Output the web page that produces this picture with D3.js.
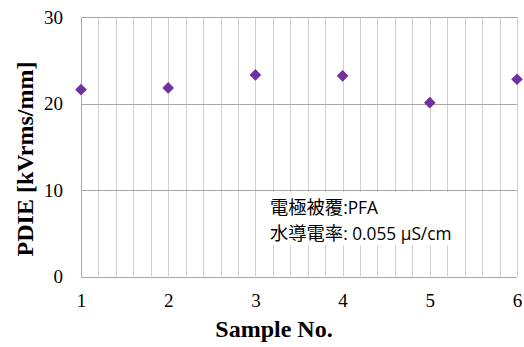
<!DOCTYPE html>
<html>
<head>
<meta charset="utf-8">
<script src="https://cdn.jsdelivr.net/npm/d3@7"></script>
<style>
  html, body { margin: 0; padding: 0; background: #fff; }
  svg { display: block; }
</style>
</head>
<body>
<svg id="chart" width="524" height="347"></svg>
<script>
// Sample numbers and measured PDIE values
const samples = [1, 2, 3, 4, 5, 6];
const pdie = [21.6, 21.8, 23.3, 23.2, 20.1, 22.8];
const yTicks = [0, 10, 20, 30];
const xTicks = [1, 2, 3, 4, 5, 6];
const xMinor = d3.range(1, 6.001, 0.2);
const noteLines = [
  { jp: "電極被覆", rest: ":PFA" },
  { jp: "水導電率", rest: ": 0.055 µS/cm" }
];

const svg = d3.select("#chart");
const margin = { left: 81, right: 7, top: 17, bottom: 70.5 };
const W = 524, H = 347;

const x = d3.scaleLinear().domain([1, 6]).range([margin.left, W - margin.right]);
const y = d3.scaleLinear().domain([0, 30]).range([H - margin.bottom, margin.top]);

const serif = "'Liberation Serif', 'Times New Roman', serif";

// vertical gridlines every 0.2
svg.append("g")
  .selectAll("line")
  .data(xMinor)
  .join("line")
  .attr("x1", d => Math.round(x(d)) + 0.5)
  .attr("x2", d => Math.round(x(d)) + 0.5)
  .attr("y1", y(30))
  .attr("y2", y(0))
  .attr("stroke", "#cfcfcf")
  .attr("stroke-width", 1);

// horizontal gridlines
svg.append("g")
  .selectAll("line")
  .data(yTicks)
  .join("line")
  .attr("x1", x(1))
  .attr("x2", x(6))
  .attr("y1", d => Math.round(y(d)) + 0.5)
  .attr("y2", d => Math.round(y(d)) + 0.5)
  .attr("stroke", "#a8a8a8")
  .attr("stroke-width", 1);

// left axis line
svg.append("line")
  .attr("x1", Math.round(x(1)) + 0.5).attr("x2", Math.round(x(1)) + 0.5)
  .attr("y1", y(30)).attr("y2", y(0))
  .attr("stroke", "#a8a8a8");

// note box
const box = svg.append("g");
box.append("rect")
  .attr("x", 263).attr("y", 192).attr("width", 192).attr("height", 53)
  .attr("fill", "#fff");
noteLines.forEach((ln, i) => {
  const t = box.append("text")
    .attr("x", 270)
    .attr("y", 214 + i * 25.5)
    .attr("fill", "#000");
  t.append("tspan")
    .attr("font-family", "'Noto Sans CJK JP', sans-serif")
    .attr("font-size", 18.3)
    .text(ln.jp);
  t.append("tspan")
    .attr("font-family", "'Open Sans', 'Noto Sans', sans-serif")
    .attr("font-size", 17.3)
    .text(ln.rest);
});

// axes tick labels via d3 axes
const yAxis = d3.axisLeft(y).tickValues(yTicks).tickSize(0).tickPadding(18);
svg.append("g")
  .attr("transform", `translate(${x(1)},0)`)
  .call(yAxis)
  .call(g => g.select(".domain").remove())
  .call(g => g.selectAll("text")
    .attr("font-family", serif)
    .attr("font-size", 19)
    .attr("fill", "#000"));

const xAxis = d3.axisBottom(x).tickValues(xTicks).tickFormat(d3.format("d")).tickSize(0).tickPadding(17);
svg.append("g")
  .attr("transform", `translate(0,${y(0)})`)
  .call(xAxis)
  .call(g => g.select(".domain").remove())
  .call(g => g.selectAll("text")
    .attr("font-family", serif)
    .attr("font-size", 19)
    .attr("fill", "#000"));

// data markers (diamonds)
svg.append("g")
  .selectAll("path")
  .data(samples.map((s, i) => ({ s, v: pdie[i] })))
  .join("path")
  .attr("d", d3.symbol().type(d3.symbolSquare).size(68))
  .attr("transform", d => `translate(${x(d.s)},${y(d.v)}) rotate(45)`)
  .attr("fill", "#7030a0");

// axis titles
svg.append("text")
  .attr("x", 274)
  .attr("y", 337)
  .attr("text-anchor", "middle")
  .attr("font-family", serif)
  .attr("font-weight", "bold")
  .attr("font-size", 24)
  .text("Sample No.");

svg.append("text")
  .attr("transform", "translate(33,159) rotate(-90)")
  .attr("text-anchor", "middle")
  .attr("font-family", serif)
  .attr("font-weight", "bold")
  .attr("font-size", 24)
  .text("PDIE [kVrms/mm]");
</script>
</body>
</html>
